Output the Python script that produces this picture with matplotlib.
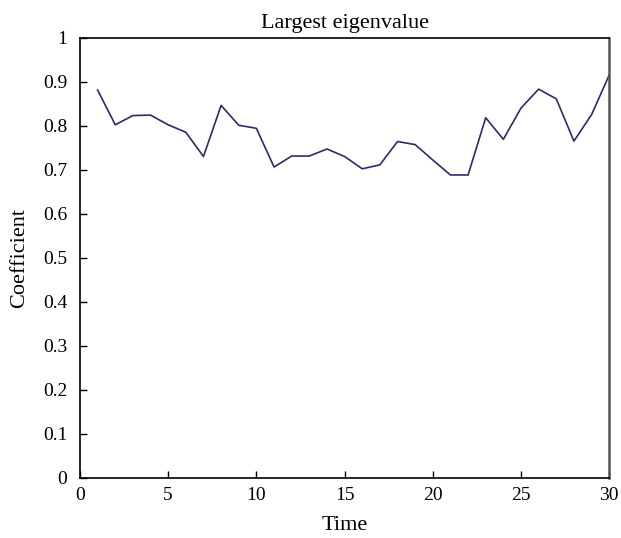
import matplotlib
matplotlib.use("Agg")
import matplotlib.pyplot as plt

time = list(range(1, 31))
eigen = [0.881, 0.802, 0.823, 0.824, 0.802, 0.785, 0.730, 0.846, 0.801, 0.794,
         0.706, 0.731, 0.731, 0.747, 0.730, 0.702, 0.711, 0.764, 0.757, 0.722,
         0.688, 0.688, 0.818, 0.769, 0.840, 0.883, 0.861, 0.765, 0.825, 0.915]

plt.rcParams["font.family"] = ["Liberation Serif", "DejaVu Serif"]

fig = plt.figure(figsize=(6.21, 5.38), dpi=100)
ax = fig.add_axes([0.1288, 0.112, 0.981 - 0.1288, 0.930 - 0.112])

ax.plot(time, eigen, color="#2b2b6e", linewidth=1.2)

ax.set_xlim(0, 30)
ax.set_ylim(0, 1)
ax.set_xticks([0, 5, 10, 15, 20, 25, 30])
ax.set_yticks([i / 10 for i in range(11)])
ax.set_yticklabels(["0", "0.1", "0.2", "0.3", "0.4", "0.5", "0.6", "0.7", "0.8", "0.9", "1"])
ax.tick_params(direction="in", length=5, width=1, labelsize=14, top=False, right=False)
ax.tick_params(axis="y", pad=9)
ax.tick_params(axis="x", pad=7)
for s in ax.spines.values():
    s.set_linewidth(1.2)
ax.spines["right"].set_color("#555555")
ax.spines["right"].set_linewidth(1.8)

ax.set_title("Largest eigenvalue", fontsize=16, pad=7)
ax.set_xlabel("Time", fontsize=16, labelpad=8)
ax.set_ylabel("Coefficient", fontsize=16, labelpad=10)

fig.savefig("out.png", dpi=100)
